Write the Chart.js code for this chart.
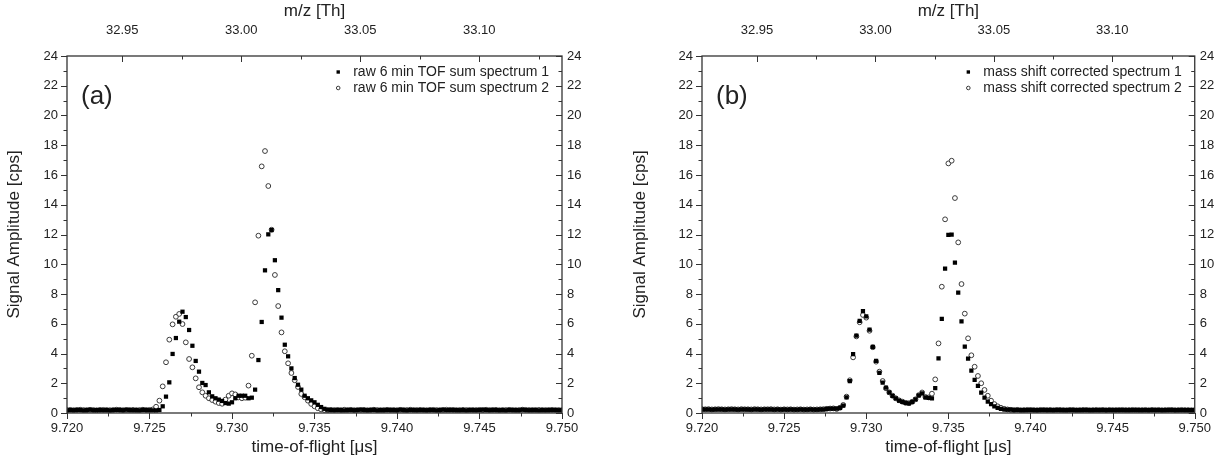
<!DOCTYPE html>
<html>
<head>
<meta charset="utf-8">
<script src="https://cdn.jsdelivr.net/npm/chart.js@4.4.1/dist/chart.umd.min.js"></script>
<style>
  html, body { margin: 0; padding: 0; background: #fff; }
  #wrap { position: relative; width: 1219px; height: 470px; overflow: hidden; }
  .panel { position: absolute; top: 0; height: 470px; }
</style>
</head>
<body>
<div id="wrap">
  <div class="panel" style="left:0;width:609px"><canvas id="chartA"></canvas></div>
  <div class="panel" style="left:609px;width:610px"><canvas id="chartB"></canvas></div>
</div>
<script>
// TOF bins: 0.2 ns wide, starting at 9.7200 us
const tofStart = 9.7200
const tofStep = 0.0002
const tofBinCount = 151

// axis ticks
const ampTicks = [0, 2, 4, 6, 8, 10, 12, 14, 16, 18, 20, 22, 24]
const tofTicks = [9.720, 9.725, 9.730, 9.735, 9.740, 9.745, 9.750]
const mzTicks = [32.95, 33.00, 33.05, 33.10]
const mzRange = [32.9268, 33.1348]

// (a) raw 6 min sums [cps]
const rawSum1 = [
  0.18, 0.20, 0.19, 0.21, 0.20, 0.18, 0.20, 0.22, 0.19, 0.20,
  0.21, 0.19, 0.20, 0.18, 0.20, 0.21, 0.20, 0.19, 0.22, 0.20,
  0.19, 0.20, 0.18, 0.21, 0.20, 0.19, 0.18, 0.17,
  0.20, 0.45, 1.10, 2.06, 3.97, 5.04, 6.14, 6.81, 6.45, 5.58,
  4.52, 3.50, 2.78, 2.02, 1.88, 1.39, 1.12, 0.99, 0.90, 0.81,
  0.67, 0.63, 0.72, 0.99, 1.16, 1.16, 1.16, 0.99, 1.03, 1.57,
  3.56, 6.12, 9.59, 12.01, 12.30, 10.27, 8.26, 6.41, 4.59, 3.81,
  3.00, 2.35, 1.90, 1.57, 1.16, 0.99, 0.85, 0.72, 0.55, 0.40,
  0.28, 0.22,
  0.20, 0.19, 0.21, 0.20, 0.18, 0.20, 0.21, 0.19, 0.20, 0.22,
  0.20, 0.19, 0.20, 0.21, 0.18, 0.20, 0.19, 0.21, 0.20, 0.20,
  0.19, 0.22, 0.20, 0.18, 0.20, 0.21, 0.19, 0.20, 0.20, 0.19,
  0.21, 0.20, 0.18, 0.20, 0.22, 0.19, 0.20, 0.21, 0.20, 0.19,
  0.20, 0.18, 0.21, 0.20, 0.19, 0.20, 0.22, 0.20, 0.19, 0.21,
  0.20, 0.19, 0.20, 0.18, 0.21, 0.20, 0.20, 0.19, 0.22, 0.20,
  0.19, 0.21, 0.20, 0.18, 0.20, 0.19, 0.21, 0.20, 0.20, 0.19,
  0.20
]
const rawSum2 = [
  0.20, 0.21, 0.19, 0.20, 0.22, 0.20, 0.19, 0.21, 0.20, 0.18,
  0.20, 0.21, 0.20, 0.19, 0.20, 0.22, 0.21, 0.19, 0.20, 0.20,
  0.21, 0.19, 0.20, 0.22, 0.20, 0.21, 0.24,
  0.42, 0.83, 1.79, 3.41, 4.93, 5.96, 6.47, 6.66, 5.98, 4.75,
  3.63, 3.07, 2.33, 1.73, 1.39, 1.16, 0.99, 0.87, 0.76, 0.67,
  0.62, 0.90, 1.16, 1.32, 1.25, 1.05, 0.99, 1.03, 1.84, 3.85,
  7.44, 11.92, 16.58, 17.61, 15.26, 12.32, 9.28, 7.19, 5.42, 4.15,
  3.34, 2.69, 2.20, 1.75, 1.28, 1.06, 0.83, 0.61, 0.45, 0.32,
  0.24, 0.20,
  0.19, 0.21, 0.20, 0.20, 0.19, 0.22, 0.20, 0.21, 0.19, 0.20,
  0.20, 0.21, 0.19, 0.20, 0.22, 0.20, 0.19, 0.20, 0.21, 0.20,
  0.20, 0.19, 0.21, 0.20, 0.20, 0.22, 0.19, 0.20, 0.21, 0.20,
  0.19, 0.20, 0.21, 0.20, 0.19, 0.20, 0.22, 0.21, 0.20, 0.19,
  0.20, 0.21, 0.20, 0.19, 0.20, 0.20, 0.21, 0.19, 0.22, 0.20,
  0.20, 0.21, 0.19, 0.20, 0.20, 0.21, 0.20, 0.19, 0.20, 0.22,
  0.21, 0.20, 0.19, 0.20, 0.21, 0.20, 0.20, 0.19, 0.21, 0.20,
  0.20, 0.19
]

// (b) after mass shift correction [cps]
const corrSum1 = [
  0.25, 0.24, 0.25, 0.23, 0.24, 0.25, 0.24, 0.23, 0.24, 0.25,
  0.24, 0.23, 0.25, 0.24, 0.24, 0.23, 0.25, 0.24, 0.23, 0.24,
  0.24, 0.25, 0.23, 0.24, 0.22, 0.24, 0.23, 0.24, 0.22, 0.23,
  0.24, 0.22, 0.23, 0.24, 0.22, 0.23, 0.24, 0.25, 0.27, 0.30,
  0.30, 0.30, 0.35, 0.50, 1.05, 2.15, 3.95, 5.20, 6.20, 6.85,
  6.50, 5.60, 4.45, 3.50, 2.70, 2.05, 1.70, 1.38, 1.15, 0.98,
  0.84, 0.75, 0.68, 0.65, 0.74, 0.92, 1.18, 1.32, 1.05, 1.02,
  0.99, 1.68, 3.67, 6.32, 9.70, 11.97, 11.99, 10.11, 8.09, 6.16,
  4.46, 3.65, 2.85, 2.22, 1.82, 1.37, 1.03, 0.76, 0.60, 0.45,
  0.35, 0.28, 0.24, 0.22,
  0.22, 0.20, 0.21, 0.20, 0.19, 0.20, 0.21, 0.20, 0.19, 0.20,
  0.21, 0.20, 0.20, 0.19, 0.21, 0.20, 0.19, 0.20, 0.21, 0.20,
  0.20, 0.19, 0.20, 0.21, 0.20, 0.19, 0.20, 0.20, 0.21, 0.19,
  0.20, 0.20, 0.19, 0.21, 0.20, 0.20, 0.19, 0.20, 0.21, 0.20,
  0.19, 0.20, 0.20, 0.21, 0.19, 0.20, 0.20, 0.19, 0.20, 0.21,
  0.20, 0.19, 0.20, 0.20, 0.19, 0.20, 0.20
]
const corrSum2 = [
  0.26, 0.25, 0.26, 0.24, 0.25, 0.26, 0.25, 0.24, 0.25, 0.26,
  0.25, 0.24, 0.26, 0.25, 0.25, 0.24, 0.26, 0.25, 0.24, 0.25,
  0.25, 0.26, 0.24, 0.25, 0.23, 0.25, 0.24, 0.25, 0.23, 0.24,
  0.25, 0.23, 0.24, 0.25, 0.23, 0.24, 0.25, 0.26, 0.28, 0.30,
  0.31,
  0.27, 0.35, 0.54, 1.10, 2.20, 3.74, 5.15, 6.10, 6.59, 6.41,
  5.53, 4.42, 3.45, 2.78, 2.15, 1.66, 1.39, 1.16, 0.99, 0.85,
  0.76, 0.68, 0.66, 0.75, 0.92, 1.20, 1.38, 1.08, 1.05, 1.30,
  2.26, 4.68, 8.49, 13.02, 16.78, 16.96, 14.45, 11.47, 8.67, 6.68,
  5.02, 3.88, 3.11, 2.49, 2.00, 1.55, 1.16, 0.83, 0.60, 0.45,
  0.35, 0.28, 0.24,
  0.21, 0.20, 0.21, 0.19, 0.20, 0.21, 0.20, 0.20, 0.19, 0.21,
  0.20, 0.20, 0.21, 0.19, 0.20, 0.21, 0.20, 0.19, 0.20, 0.21,
  0.19, 0.20, 0.21, 0.20, 0.19, 0.20, 0.21, 0.20, 0.20, 0.19,
  0.21, 0.20, 0.20, 0.19, 0.21, 0.20, 0.20, 0.21, 0.19, 0.20,
  0.20, 0.21, 0.19, 0.20, 0.20, 0.21, 0.19, 0.20, 0.21, 0.20,
  0.19, 0.20, 0.21, 0.20, 0.20, 0.19, 0.20
]

const FONT = '"Liberation Sans", Arial, Helvetica, sans-serif'
const INK = '#222'
Chart.defaults.font.family = FONT
Chart.defaults.color = INK

const tofBins = []
for (let i = 0; i < tofBinCount; i++) tofBins.push(+(tofStart + i * tofStep).toFixed(4))

function toPoints(values) {
    return values.map((v, i) => ({ x: tofBins[i], y: v }))
}

// minor ticks halfway between majors
function halfSteps(majors, extraAfter) {
    const out = []
    for (let i = 0; i < majors.length - 1; i++) out.push((majors[i] + majors[i + 1]) / 2)
    if (extraAfter) {
        const step = majors[1] - majors[0]
        out.push(majors[majors.length - 1] + step / 2)
    }
    return out
}

// box frame plus tick marks: left/bottom point out, right/top point in
const axisFrame = {
    id: 'axisFrame',
    afterDatasetsDraw(chart) {
        const { ctx, chartArea: a } = chart
        const { x, x2, y } = chart.scales
        const major = 6, minor = 3.5
        ctx.save()
        ctx.strokeStyle = '#333'
        ctx.lineWidth = 1
        ctx.beginPath()
        const mark = (px, py, dx, dy) => { ctx.moveTo(px, py); ctx.lineTo(px + dx, py + dy) }
        ampTicks.forEach(v => {
            const p = Math.round(y.getPixelForValue(v)) + 0.5
            mark(a.left, p, -major, 0)
            mark(a.right, p, -major, 0)
        })
        halfSteps(ampTicks).forEach(v => {
            const p = Math.round(y.getPixelForValue(v)) + 0.5
            mark(a.left, p, -minor, 0)
            mark(a.right, p, -minor, 0)
        })
        tofTicks.forEach(v => {
            const p = Math.round(x.getPixelForValue(v)) + 0.5
            mark(p, a.bottom, 0, major)
        })
        halfSteps(tofTicks).forEach(v => {
            const p = Math.round(x.getPixelForValue(v)) + 0.5
            mark(p, a.bottom, 0, minor)
        })
        mzTicks.forEach(v => {
            const p = Math.round(x2.getPixelForValue(v)) + 0.5
            mark(p, a.top, 0, major)
        })
        halfSteps(mzTicks, true).forEach(v => {
            const p = Math.round(x2.getPixelForValue(v)) + 0.5
            if (p < a.right) mark(p, a.top, 0, minor)
        })
        ctx.stroke()
        ctx.lineWidth = 1.3
        ctx.strokeRect(a.left, a.top, a.width, a.height)
        ctx.restore()
    }
}

// legend inside the frame (top right) and the panel tag
const panelLegend = {
    id: 'panelLegend',
    afterDatasetsDraw(chart, args, opts) {
        const { ctx, chartArea: a } = chart
        const sets = chart.data.datasets
        ctx.save()
        ctx.font = '14px ' + FONT
        ctx.textBaseline = 'middle'
        const textW = Math.max(...sets.map(d => ctx.measureText(d.label).width))
        const textX = a.right - opts.rightGap - textW
        sets.forEach((ds, i) => {
            const yy = a.top + opts.top + i * opts.rowHeight
            ctx.fillStyle = INK
            ctx.fillText(ds.label, textX, yy)
            ctx.fillStyle = ds.backgroundColor
            ctx.strokeStyle = ds.borderColor
            ctx.lineWidth = ds.borderWidth
            Chart.helpers.drawPoint(ctx, {
                pointStyle: ds.pointStyle, radius: ds.legendRadius,
                borderWidth: ds.borderWidth, rotation: 0
            }, textX - 15, yy)
        })
        ctx.fillStyle = INK
        ctx.font = '26px ' + FONT
        ctx.textBaseline = 'alphabetic'
        ctx.fillText(opts.tag, a.left + 14, a.top + 48)
        ctx.restore()
    }
}

function buildPanel(canvasId, s1, s2, cfg) {
    const tickFont = { size: 13 }
    const titleFont = { size: 17 }
    return new Chart(document.getElementById(canvasId).getContext('2d'), {
        type: 'scatter',
        data: {
            datasets: [{
                label: cfg.labels[0],
                data: toPoints(s1),
                pointStyle: 'rect',
                pointRadius: 3.0,
                legendRadius: 2.4,
                backgroundColor: '#000',
                borderColor: '#000',
                borderWidth: 0
            }, {
                label: cfg.labels[1],
                data: toPoints(s2),
                pointStyle: 'circle',
                pointRadius: 2.4,
                legendRadius: 1.8,
                backgroundColor: '#fff',
                borderColor: '#3a3a3a',
                borderWidth: 1
            }]
        },
        options: {
            responsive: true,
            maintainAspectRatio: false,
            animation: false,
            devicePixelRatio: 1,
            events: [],
            layout: { padding: 0 },
            plugins: {
                legend: { display: false },
                tooltip: { enabled: false },
                panelLegend: { tag: cfg.tag, top: 16, rowHeight: 16, rightGap: 13 }
            },
            scales: {
                x: {
                    type: 'linear', position: 'bottom', min: 9.72, max: 9.75,
                    afterBuildTicks: s => { s.ticks = tofTicks.map(v => ({ value: v })) },
                    afterFit: s => { s.height = cfg.bottom },
                    ticks: { autoSkip: false, maxRotation: 0, padding: 8, font: tickFont,
                             callback: v => v.toFixed(3) },
                    grid: { display: false, drawTicks: false },
                    border: { display: false },
                    title: { display: true, text: 'time-of-flight [\u03bcs]', font: titleFont,
                             padding: { top: 0, bottom: 12 } }
                },
                x2: {
                    type: 'linear', position: 'top', min: mzRange[0], max: mzRange[1],
                    afterBuildTicks: s => { s.ticks = mzTicks.map(v => ({ value: v })) },
                    afterFit: s => { s.height = cfg.top },
                    ticks: { autoSkip: false, maxRotation: 0, padding: 18, font: tickFont,
                             callback: v => v.toFixed(2) },
                    grid: { display: false, drawTicks: false },
                    border: { display: false },
                    title: { display: true, text: 'm/z [Th]', font: titleFont,
                             padding: { top: 1, bottom: 0 } }
                },
                y: {
                    type: 'linear', position: 'left', min: 0, max: 24,
                    afterBuildTicks: s => { s.ticks = ampTicks.map(v => ({ value: v })) },
                    afterFit: s => { s.width = cfg.left },
                    ticks: { autoSkip: false, padding: 9, font: tickFont },
                    grid: { display: false, drawTicks: false },
                    border: { display: false },
                    title: { display: true, text: 'Signal Amplitude [cps]', font: titleFont,
                             padding: { top: cfg.titleGap, bottom: 0 } }
                },
                y2: {
                    type: 'linear', position: 'right', min: 0, max: 24,
                    afterBuildTicks: s => { s.ticks = ampTicks.map(v => ({ value: v })) },
                    afterFit: s => { s.width = cfg.right },
                    ticks: { autoSkip: false, padding: 5, font: tickFont },
                    grid: { display: false, drawTicks: false },
                    border: { display: false }
                }
            }
        },
        plugins: [axisFrame, panelLegend]
    })
}

buildPanel('chartA', rawSum1, rawSum2, {
    tag: '(a)',
    labels: ['raw 6 min TOF sum spectrum 1', 'raw 6 min TOF sum spectrum 2'],
    left: 67, right: 47, top: 56, bottom: 57, titleGap: 4
})
buildPanel('chartB', corrSum1, corrSum2, {
    tag: '(b)',
    labels: ['mass shift corrected spectrum 1', 'mass shift corrected spectrum 2'],
    left: 93, right: 22, top: 56, bottom: 57, titleGap: 21
})
</script>
</body>
</html>
